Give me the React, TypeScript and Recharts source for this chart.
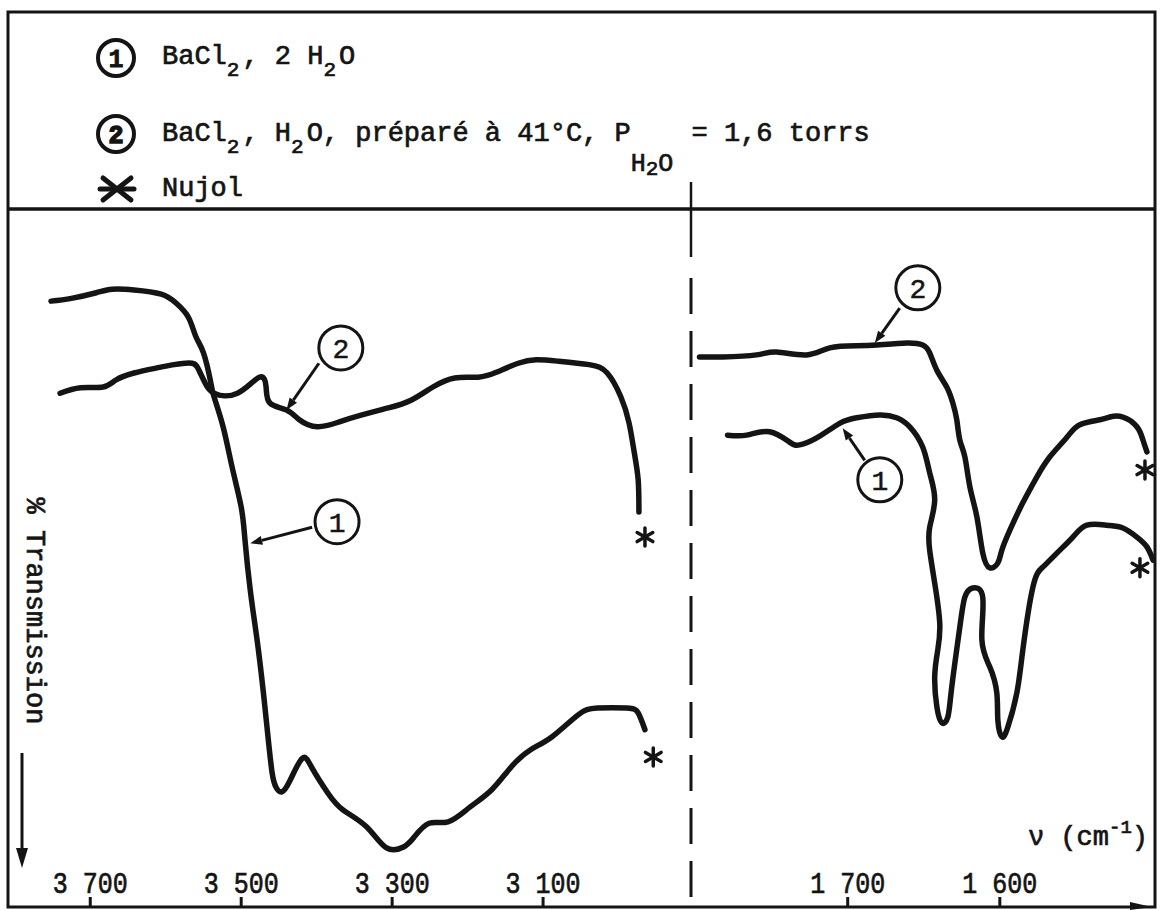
import React from 'react';
import { LineChart, Line, XAxis, YAxis, ReferenceDot, ReferenceLine } from 'recharts';

// ---------- axes ----------
const leftTicks = [3700, 3500, 3300, 3100];
const rightTicks = [1700, 1600];
const leftDomain: [number, number] = [2904, 3809];
const rightDomain: [number, number] = [1498, 1803];
const transmissionDomain: [number, number] = [0, 100];

// ---------- left panel (O-H stretching) ----------
const left1Wavenumber = [3752, 3725, 3692, 3671, 3642, 3606, 3586, 3570, 3560, 3550, 3541, 3536, 3524, 3512, 3500, 3495, 3488, 3479, 3471, 3464, 3459, 3454, 3446, 3435, 3419, 3406, 3385, 3365, 3334, 3308, 3285, 3271, 3251, 3226, 3197, 3168, 3142, 3117, 3088, 3054, 3028, 2989, 2974, 2965];
const left1Transmission = [86.8, 87.2, 88.0, 88.5, 88.4, 87.8, 86.5, 84.5, 81.7, 79.4, 75.5, 73.1, 68.8, 63.0, 57.3, 52.6, 45.4, 38.3, 31.1, 23.9, 19.2, 17.2, 16.5, 18.2, 21.3, 19.9, 16.3, 13.9, 11.5, 8.5, 8.6, 10.0, 12.0, 12.2, 14.3, 16.8, 20.1, 22.5, 24.4, 27.5, 28.5, 28.5, 27.8, 25.4];

const left2Wavenumber = [3740, 3713, 3683, 3666, 3642, 3613, 3589, 3565, 3556, 3548, 3536, 3505, 3476, 3467, 3462, 3440, 3423, 3399, 3370, 3340, 3305, 3275, 3246, 3217, 3186, 3162, 3133, 3109, 3080, 3039, 3015, 2997, 2986, 2979, 2974, 2973];
const left2Transmission = [73.6, 74.4, 74.5, 75.5, 76.5, 77.2, 77.7, 77.9, 76.9, 75.1, 73.6, 73.6, 75.9, 74.5, 72.2, 71.2, 69.8, 68.8, 69.5, 70.5, 71.5, 72.6, 74.5, 75.8, 75.9, 76.6, 77.9, 78.4, 78.2, 77.7, 76.5, 73.1, 69.3, 65.0, 61.2, 56.6];

// ---------- right panel (H-O-H bending) ----------
const right1Wavenumber = [1779.0, 1766.4, 1751.3, 1738.2, 1731.6, 1720.4, 1705.3, 1694.1, 1678.9, 1667.8, 1659.2, 1650.7, 1646.1, 1642.8, 1646.1, 1646.1, 1642.8, 1639.5, 1640.8, 1642.8, 1641.4, 1638.2, 1634.2, 1631.6, 1626.3, 1623.0, 1617.8, 1611.2, 1611.8, 1606.6, 1602.0, 1601.3, 1598.7, 1594.7, 1588.8, 1584.9, 1578.3, 1571.7, 1562.5, 1552.0, 1542.8, 1529.6, 1519.1, 1509.9, 1503.3, 1499.3];
const right1Transmission = [67.6, 67.6, 68.1, 66.6, 66.2, 67.2, 69.3, 70.1, 70.5, 70.1, 68.8, 65.9, 62.2, 58.3, 54.4, 51.1, 46.4, 40.7, 36.8, 33.0, 28.7, 26.4, 27.2, 31.5, 40.1, 44.4, 45.7, 44.3, 38.3, 34.4, 30.7, 26.8, 24.4, 25.8, 30.7, 36.8, 45.8, 48.7, 50.7, 53.0, 54.7, 54.7, 54.3, 53.0, 51.6, 49.7];

const right2Wavenumber = [1797.4, 1782.2, 1759.9, 1746.7, 1727.0, 1711.8, 1694.1, 1680.9, 1661.2, 1650.7, 1646.1, 1641.4, 1634.9, 1630.9, 1628.3, 1626.3, 1623.0, 1619.7, 1615.1, 1611.2, 1606.6, 1601.3, 1598.7, 1593.4, 1584.9, 1575.7, 1567.1, 1555.9, 1547.4, 1534.2, 1527.6, 1519.1, 1509.9, 1505.9, 1503.3];
const right2Transmission = [78.8, 78.8, 79.1, 79.5, 79.1, 80.1, 80.4, 80.5, 80.8, 80.5, 79.4, 76.9, 74.5, 72.2, 69.8, 66.9, 64.5, 60.2, 55.9, 50.7, 48.6, 49.3, 51.1, 54.0, 57.9, 61.6, 64.5, 67.3, 69.1, 69.8, 70.2, 70.2, 68.8, 66.9, 65.2];

// ---------- annotations (wavenumber, transmission) ----------
const leftLabel2 = { v: 3368, t: 80.1 };
const leftLeader2 = [{ v: 3397, t: 77.9 }, { v: 3440, t: 71.2 }];
const leftLabel1 = { v: 3373, t: 55.2 };
const leftLeader1 = [{ v: 3406, t: 54.4 }, { v: 3488, t: 52.1 }];
const leftNujol = [{ v: 2965, t: 53.0 }, { v: 2954, t: 21.5 }];

const rightLabel2 = { v: 1653.9, t: 88.7 };
const rightLeader2 = [{ v: 1665.8, t: 85.8 }, { v: 1682.2, t: 80.8 }];
const rightLabel1 = { v: 1678.9, t: 61.2 };
const rightLeader1 = [{ v: 1688.8, t: 64.0 }, { v: 1703.3, t: 68.6 }];
const rightNujol = [{ v: 1504.6, t: 62.6 }, { v: 1507.9, t: 48.6 }];

const zip = (vs: number[], ts: number[]) => vs.map((v, i) => ({ v, t: ts[i] }));
const left1 = zip(left1Wavenumber, left1Transmission);
const left2 = zip(left2Wavenumber, left2Transmission);
const right1 = zip(right1Wavenumber, right1Transmission);
const right2 = zip(right2Wavenumber, right2Transmission);

const INK = '#141414';
const MONO = "'Liberation Mono', 'DejaVu Sans Mono', monospace";

const fmtWave = (v: number) => `${Math.floor(v / 1000)} ${String(v % 1000).padStart(3, '0')}`;

function AxisTick(props: any) {
  const { x, y, payload } = props;
  return (
    <g transform={`translate(${x},${y}) scale(1,1.2)`}>
      <text x={0} y={0} textAnchor="middle" fontFamily={MONO} fontSize={25} fill={INK} stroke={INK} strokeWidth={0.6}>
        {fmtWave(payload.value)}
      </text>
    </g>
  );
}

function Leader(props: any) {
  const { x1, y1, x2, y2 } = props;
  const ang = Math.atan2(y2 - y1, x2 - x1);
  const L = 12;
  const W = 4.5;
  const bx = x2 - L * Math.cos(ang);
  const by = y2 - L * Math.sin(ang);
  const px = -Math.sin(ang) * W;
  const py = Math.cos(ang) * W;
  return (
    <g>
      <line x1={x1} y1={y1} x2={bx} y2={by} stroke={INK} strokeWidth={3} />
      <polygon points={`${x2},${y2} ${bx + px},${by + py} ${bx - px},${by - py}`} fill={INK} />
    </g>
  );
}

const circleLabel = (n: string) => (props: any) => {
  const { cx, cy } = props;
  return (
    <g>
      <circle cx={cx} cy={cy} r={22} fill="#fff" stroke={INK} strokeWidth={3} />
      <text x={cx} y={cy + 10} textAnchor="middle" fontFamily={MONO} fontSize={28} fill={INK} stroke={INK} strokeWidth={0.5}>
        {n}
      </text>
    </g>
  );
};

function NujolStar(props: any) {
  const { cx, cy } = props;
  const s = 9;
  const dx = s * 0.87;
  const dy = s * 0.5;
  return (
    <g stroke={INK} strokeWidth={3.5} strokeLinecap="round">
      <line x1={cx} y1={cy - s} x2={cx} y2={cy + s} />
      <line x1={cx - dx} y1={cy - dy} x2={cx + dx} y2={cy + dy} />
      <line x1={cx - dx} y1={cy + dy} x2={cx + dx} y2={cy - dy} />
    </g>
  );
}

function Panel(props: {
  width: number;
  domain: [number, number];
  ticks: number[];
  c1: { v: number; t: number }[];
  c2: { v: number; t: number }[];
  label1: { v: number; t: number };
  leader1: { v: number; t: number }[];
  label2: { v: number; t: number };
  leader2: { v: number; t: number }[];
  nujol: { v: number; t: number }[];
}) {
  const { width, domain, ticks, c1, c2, label1, leader1, label2, leader2, nujol } = props;
  return (
    <LineChart width={width} height={698} margin={{ top: 0, right: 0, bottom: 0, left: 0 }}>
      <XAxis
        dataKey="v"
        type="number"
        domain={domain}
        reversed
        allowDataOverflow
        ticks={ticks}
        interval={0}
        mirror
        axisLine={false}
        tickSize={10}
        tickMargin={4}
        tickLine={{ stroke: INK, strokeWidth: 3 }}
        tick={<AxisTick />}
      />
      <YAxis type="number" domain={transmissionDomain} hide allowDataOverflow />
      <Line data={c1} dataKey="t" type="natural" stroke={INK} strokeWidth={5.5} strokeLinejoin="round" strokeLinecap="round" dot={false} isAnimationActive={false} />
      <Line data={c2} dataKey="t" type="natural" stroke={INK} strokeWidth={5.5} strokeLinejoin="round" strokeLinecap="round" dot={false} isAnimationActive={false} />
      <ReferenceLine segment={[{ x: leader1[0].v, y: leader1[0].t }, { x: leader1[1].v, y: leader1[1].t }]} shape={<Leader />} ifOverflow="visible" />
      <ReferenceLine segment={[{ x: leader2[0].v, y: leader2[0].t }, { x: leader2[1].v, y: leader2[1].t }]} shape={<Leader />} ifOverflow="visible" />
      <ReferenceDot x={label1.v} y={label1.t} r={22} shape={circleLabel('1')} ifOverflow="visible" />
      <ReferenceDot x={label2.v} y={label2.t} r={22} shape={circleLabel('2')} ifOverflow="visible" />
      {nujol.map((p, i) => (
        <ReferenceDot key={i} x={p.v} y={p.t} r={9} shape={<NujolStar />} ifOverflow="visible" />
      ))}
    </LineChart>
  );
}

export default function App() {
  const txt = { fontFamily: MONO, fill: INK, stroke: INK, strokeWidth: 0.7 } as const;
  return (
    <div style={{ position: 'absolute', left: 0, top: 0, width: 1164, height: 910, background: '#fff' }}>
      <div style={{ position: 'absolute', left: 8, top: 209 }}>
        <Panel width={683} domain={leftDomain} ticks={leftTicks} c1={left1} c2={left2}
          label1={leftLabel1} leader1={leftLeader1} label2={leftLabel2} leader2={leftLeader2} nujol={leftNujol} />
      </div>
      <div style={{ position: 'absolute', left: 691, top: 209 }}>
        <Panel width={464} domain={rightDomain} ticks={rightTicks} c1={right1} c2={right2}
          label1={rightLabel1} leader1={rightLeader1} label2={rightLabel2} leader2={rightLeader2} nujol={rightNujol} />
      </div>
      <svg width={1164} height={910} style={{ position: 'absolute', left: 0, top: 0, pointerEvents: 'none' }}>
        {/* frame */}
        <rect x={8} y={12} width={1147} height={895} fill="none" stroke={INK} strokeWidth={3} />
        <line x1={8} y1={209} x2={1155} y2={209} stroke={INK} strokeWidth={3.5} />
        <line x1={691} y1={182} x2={691} y2={257} stroke={INK} strokeWidth={2.5} />
        <line x1={691} y1={278} x2={691} y2={906} stroke={INK} strokeWidth={3} strokeDasharray="36 17" />
        <polygon points="1130,902 1152,907 1130,910" fill={INK} />

        {/* legend */}
        <circle cx={116} cy={58} r={18} fill="none" stroke={INK} strokeWidth={4} />
        <text x={116} y={67} textAnchor="middle" fontFamily={MONO} fontSize={25} fontWeight="bold" fill={INK} stroke={INK} strokeWidth={0.8}>1</text>
        <text x={162} y={64} fontSize={27} {...txt}>
          BaCl<tspan dy={12} fontSize={21}>2</tspan><tspan dy={-12} dx={3}>, 2 H</tspan><tspan dy={12} fontSize={21}>2</tspan><tspan dy={-12} dx={3}>O</tspan>
        </text>

        <circle cx={116} cy={134} r={18} fill="none" stroke={INK} strokeWidth={4} />
        <text x={116} y={143} textAnchor="middle" fontFamily={MONO} fontSize={25} fontWeight="bold" fill={INK} stroke={INK} strokeWidth={1.5}>2</text>
        <text x={162} y={141} fontSize={27} {...txt}>
          BaCl<tspan dy={12} fontSize={21}>2</tspan><tspan dy={-12} dx={3}>, H</tspan><tspan dy={12} fontSize={21}>2</tspan><tspan dy={-12} dx={3}>O, préparé à 41°C, P</tspan><tspan dy={30} fontSize={25}>H</tspan><tspan dy={4} fontSize={21}>2</tspan><tspan dy={-4} fontSize={25}>O</tspan><tspan dy={-30} dx={2}> = 1,6 torrs</tspan>
        </text>

        <g stroke={INK} strokeWidth={5} strokeLinecap="round">
          <line x1={100} y1={189} x2={134} y2={189} />
          <line x1={103} y1={178} x2={131} y2={200} />
          <line x1={103} y1={200} x2={131} y2={178} />
        </g>
        <text x={162} y={196} fontSize={27} {...txt}>Nujol</text>

        {/* y axis title */}
        <text transform="translate(27,611) rotate(90)" textAnchor="middle" fontSize={27} {...txt}>% Transmission</text>
        <line x1={22} y1={753} x2={22} y2={852} stroke={INK} strokeWidth={3} />
        <polygon points="16,848 28,848 22,868" fill={INK} />

        {/* x axis title */}
        <text x={1148} y={845} textAnchor="end" fontSize={27} {...txt}>
          ν (cm<tspan dy={-12} fontSize={19}>-1</tspan><tspan dy={12}>)</tspan>
        </text>
      </svg>
    </div>
  );
}
